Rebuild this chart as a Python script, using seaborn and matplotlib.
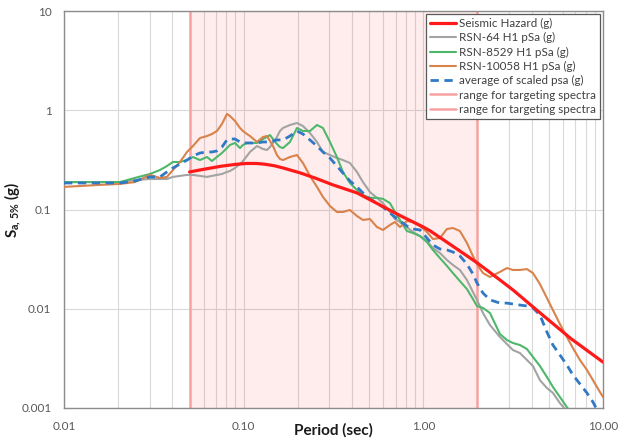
import numpy as np
import pandas as pd
import matplotlib
matplotlib.use("Agg")
import matplotlib.pyplot as plt
import seaborn as sns
from matplotlib.ticker import FixedLocator, FixedFormatter, LogLocator, NullFormatter

# ---------------------------------------------------------------- data
# target (seismic hazard) spectrum
hazard_period = [0.05, 0.057, 0.074, 0.09, 0.104, 0.118, 0.131, 0.148, 0.166,
                 0.206, 0.249, 0.314, 0.427, 0.486, 0.574, 0.741, 1.0, 1.09,
                 1.35, 2.0, 2.67, 3.15, 4.46, 6.63, 10.0]
hazard_sa = [0.239, 0.250, 0.272, 0.285, 0.291, 0.291, 0.286, 0.276, 0.262,
             0.234, 0.208, 0.177, 0.147, 0.130, 0.111, 0.087, 0.0666, 0.061,
             0.047, 0.0289, 0.0195, 0.0155, 0.0091, 0.0050, 0.0029]

# periods of the scaled record spectra (sec)
period = [0.01, 0.0159, 0.0205, 0.0248, 0.0301, 0.0342, 0.0374, 0.0404, 0.0442,
          0.0484, 0.0522, 0.0571, 0.0625, 0.0666, 0.0710, 0.0757, 0.0807,
          0.0839, 0.0895, 0.0954, 0.0991, 0.1043, 0.1084, 0.1186, 0.1281,
          0.1348, 0.1401, 0.1456, 0.1532, 0.1592, 0.1655, 0.1810, 0.1980,
          0.2138, 0.2339, 0.2558, 0.2762, 0.3021, 0.3304, 0.3569, 0.3903,
          0.4271, 0.4612, 0.5044, 0.5518, 0.5960, 0.6518, 0.6950, 0.7410,
          0.8102, 0.8752, 0.9574, 1.047, 1.131, 1.237, 1.353, 1.461, 1.598,
          1.748, 1.888, 1.988, 2.147, 2.348, 2.669, 2.919, 3.151, 3.447,
          3.771, 4.073, 4.455, 4.873, 5.263, 5.756, 6.296, 6.799, 7.437,
          8.135, 8.787, 9.612, 10.0]

nan = np.nan
rsn64 = [0.189, 0.189, 0.189, 0.198, 0.203, 0.203, 0.203, 0.213, 0.218, 0.223,
         0.223, 0.218, 0.213, 0.218, 0.223, 0.228, 0.239, 0.244, 0.262, 0.287,
         0.308, 0.346, 0.380, 0.436, 0.407, 0.398, 0.426, 0.468, 0.538, 0.618,
         0.663, 0.710, 0.744, 0.694, 0.590, 0.479, 0.380, 0.354, 0.330, 0.315,
         0.294, 0.239, 0.189, 0.150, 0.131, 0.116, 0.0944, 0.0802, 0.0748,
         0.0666, 0.0593, 0.0541, 0.0481, 0.0409, 0.0365, 0.0310, 0.0276,
         0.0246, 0.0195, 0.01475, 0.0123, 0.00906, 0.00686, 0.00519, 0.00441,
         0.00384, 0.00358, 0.00305, 0.00265, 0.00191, 0.00159, 0.00142,
         0.00112, 0.000933, nan, nan, nan, nan, nan, nan]

rsn8529 = [0.189, 0.189, 0.189, 0.208, 0.228, 0.250, 0.274, 0.301, 0.301, 0.315,
           0.338, 0.315, 0.338, 0.308, 0.338, 0.371, 0.416, 0.447, 0.468, 0.416,
           0.447, 0.468, 0.468, 0.468, 0.513, 0.538, 0.563, 0.513, 0.457, 0.426,
           0.416, 0.479, 0.663, 0.618, 0.618, 0.710, 0.663, 0.479, 0.338, 0.239,
           0.185, 0.157, 0.140, 0.131, 0.131, 0.128, 0.116, 0.0944, 0.0784,
           0.0607, 0.0580, 0.0540, 0.0470, 0.0391, 0.0324, 0.0270, 0.0229,
           0.0190, 0.0158, 0.01253, 0.01066, 0.0102, 0.00906, 0.00557, 0.00484,
           0.00452, 0.00431, 0.00393, 0.00327, 0.00265, 0.00205, 0.00163,
           0.00129, 0.00102, 0.000845, nan, nan, nan, nan, nan]

rsn10058 = [0.169, 0.177, 0.181, 0.189, 0.223, 0.208, 0.213, 0.250, 0.301, 0.380,
            0.436, 0.525, 0.550, 0.576, 0.618, 0.727, 0.917, 0.875, 0.779, 0.663,
            0.618, 0.576, 0.550, 0.479, 0.538, 0.550, 0.490, 0.436, 0.354, 0.323,
            0.315, 0.338, 0.354, 0.294, 0.218, 0.169, 0.134, 0.1085, 0.0944,
            0.0944, 0.0989, 0.0860, 0.0784, 0.0802, 0.0666, 0.0622, 0.0698,
            0.0748, 0.0666, 0.0766, 0.0748, 0.0682, 0.0593, 0.0504, 0.0516,
            0.0636, 0.0651, 0.0607, 0.0460, 0.0340, 0.0282, 0.0229, 0.0209,
            0.0235, 0.0257, 0.0246, 0.0246, 0.0251, 0.0229, 0.01776, 0.01283,
            0.00971, 0.00702, 0.00519, 0.00402, 0.00305, 0.00242, 0.00191,
            0.00145, 0.00129]

avg_scaled = [0.185, 0.185, 0.185, 0.194, 0.213, 0.213, 0.239, 0.262, 0.287, 0.315,
              0.346, 0.371, 0.380, 0.380, 0.389, 0.426, 0.502, 0.513, 0.513, 0.479,
              0.468, 0.468, 0.468, 0.468, 0.479, 0.479, 0.479, 0.490, 0.502, 0.502,
              0.502, 0.550, 0.618, 0.576, 0.502, 0.436, 0.380, 0.330, 0.274, 0.233,
              0.194, 0.169, 0.147, 0.128, 0.116, 0.106, 0.0922, 0.0840, 0.0766,
              0.0682, 0.0636, 0.0622, 0.0516, 0.0439, 0.0400, 0.0391, 0.0373,
              0.0340, 0.0282, 0.0224, 0.0182, 0.0144, 0.0123, 0.0114, 0.0114,
              0.01116, 0.0109, 0.01066, 0.0102, 0.00865, 0.00583, 0.00431,
              0.00342, 0.00271, 0.00215, 0.00175, 0.00142, 0.00115, 0.000845, nan]

range_limits = [0.05, 2.0]

x_ticks = [0.01, 0.1, 1.0, 10.0]
x_tick_labels = ["0.01", "0.10", "1.00", "10.00"]
y_ticks = [0.001, 0.01, 0.1, 1, 10]
y_tick_labels = ["0.001", "0.01", "0.1", "1", "10"]

# ---------------------------------------------------------------- style
sns.set_style("white")
plt.rcParams["font.family"] = ["Lato", "DejaVu Sans"]
plt.rcParams["mathtext.fontset"] = "custom"
plt.rcParams["mathtext.rm"] = "Lato"
plt.rcParams["mathtext.bf"] = "Lato:bold"
plt.rcParams["mathtext.it"] = "Lato:italic"

fig = plt.figure(figsize=(6.18, 4.42), dpi=100)
ax = fig.add_axes([64 / 618, 1 - 408 / 442, (603 - 64) / 618, (408 - 11) / 442])

records = pd.DataFrame({
    "period": period,
    "RSN-64 H1 pSa (g)": rsn64,
    "RSN-8529 H1 pSa (g)": rsn8529,
    "RSN-10058 H1 pSa (g)": rsn10058,
    "average of scaled psa (g)": avg_scaled,
})
hazard = pd.DataFrame({"period": hazard_period, "sa": hazard_sa})

common = dict(ax=ax, estimator=None, sort=False)
sns.lineplot(data=hazard, x="period", y="sa", color="#FF1A1A", lw=2.3,
             label="Seismic Hazard (g)", zorder=5, **common)
sns.lineplot(data=records, x="period", y="RSN-64 H1 pSa (g)", color="#A3A3A3",
             lw=1.5, label="RSN-64 H1 pSa (g)", zorder=3, **common)
sns.lineplot(data=records, x="period", y="RSN-8529 H1 pSa (g)", color="#4DB86A",
             lw=1.5, label="RSN-8529 H1 pSa (g)", zorder=3, **common)
sns.lineplot(data=records, x="period", y="RSN-10058 H1 pSa (g)", color="#D9824A",
             lw=1.5, label="RSN-10058 H1 pSa (g)", zorder=3, **common)
sns.lineplot(data=records, x="period", y="average of scaled psa (g)",
             color="#3079C4", lw=2.0, linestyle=(0, (3, 2)),
             label="average of scaled psa (g)", zorder=4, **common)

# targeting range: shaded band with its two bounding lines
ax.axvspan(range_limits[0], range_limits[1], color="#FF0000", alpha=0.07,
           lw=0, zorder=1.5)
for lim in range_limits:
    ax.axvline(lim, color="#F7A1A1", lw=1.8, zorder=2,
               label="range for targeting spectra")

ax.set_xscale("log")
ax.set_yscale("log")
ax.set_xlim(0.01, 10)
ax.set_ylim(0.001, 10)

ax.xaxis.set_major_locator(FixedLocator(x_ticks))
ax.xaxis.set_major_formatter(FixedFormatter(x_tick_labels))
ax.xaxis.set_minor_locator(LogLocator(base=10, subs=range(2, 10)))
ax.xaxis.set_minor_formatter(NullFormatter())
ax.yaxis.set_major_locator(FixedLocator(y_ticks))
ax.yaxis.set_major_formatter(FixedFormatter(y_tick_labels))
ax.yaxis.set_minor_formatter(NullFormatter())
ax.yaxis.set_minor_locator(FixedLocator([]))

ax.grid(True, which="both", axis="x", color="#D9D9D9", lw=0.8, zorder=1)
ax.grid(True, which="major", axis="y", color="#D9D9D9", lw=0.8, zorder=1)
ax.set_axisbelow(True)

ax.tick_params(axis="both", which="both", length=0, labelsize=8.5,
               labelcolor="#595959", pad=9)
for side in ["left", "bottom", "top", "right"]:
    ax.spines[side].set_color("#8C8C8C")
    ax.spines[side].set_linewidth(1.0)

ax.set_xlabel("Period (sec)", fontsize=11, fontweight="bold", color="#1A1A1A")
ax.xaxis.set_label_coords(0.5, -0.038)
ax.set_ylabel(r"$\mathbf{S_{a,\,5\%}}$ (g)", fontsize=11, fontweight="bold",
              color="#1A1A1A")
ax.yaxis.set_label_coords(-0.076, 0.5)

handles, labels = ax.get_legend_handles_labels()
leg = ax.legend(handles, labels, loc="upper right", fontsize=8.4,
                frameon=True, fancybox=False, framealpha=1,
                edgecolor="#595959", borderaxespad=0.25, handlelength=2.2,
                handletextpad=0.3, labelspacing=0.28, borderpad=0.35)
leg.get_frame().set_linewidth(0.9)
for t in leg.get_texts():
    t.set_color("#404040")

fig.savefig("out.png", dpi=100)
